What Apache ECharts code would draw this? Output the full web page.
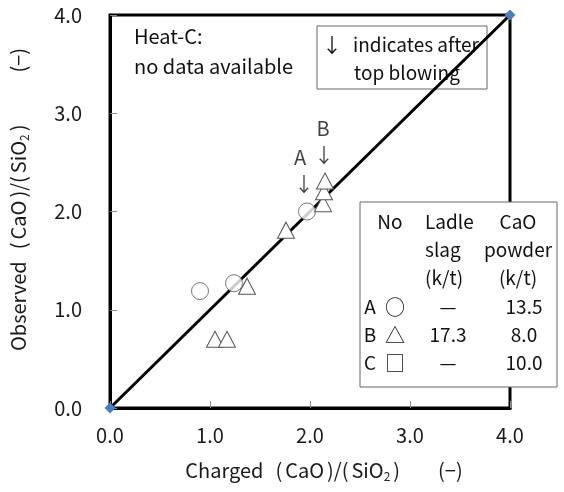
<!DOCTYPE html>
<html>
<head>
<meta charset="utf-8">
<script src="https://cdn.jsdelivr.net/npm/echarts@6/dist/echarts.min.js"></script>
<style>
  html, body { margin: 0; padding: 0; background: #fff; }
  #chart { width: 564px; height: 492px; }
</style>
</head>
<body>
<div id="chart"></div>
<script>
// Basicity: charged vs observed (CaO)/(SiO2)
const tickValues = [0, 1, 2, 3, 4];

// Heat A (circles)
const heatA = [[0.90, 1.19], [1.24, 1.27], [1.97, 2.00]];
// Heat B (triangles)
const heatB = [[1.05, 0.70], [1.17, 0.70], [1.37, 1.24], [1.76, 1.81],
               [2.13, 2.08], [2.14, 2.20], [2.15, 2.31]];
// 1:1 reference line
const parity = [[0, 0], [4, 4]];
// "after top blowing" markers
const arrowMarks = [[1.94, 2.28], [2.14, 2.575]];
const heatLabels = [{ name: 'A', value: [1.90, 2.555] }, { name: 'B', value: [2.13, 2.85] }];

// Table of additions
const tableHeader = [['No', 'Ladle', 'CaO'], ['', 'slag', 'powder'], ['', '(k/t)', '(k/t)']];
const tableRows = [['A', '○', '—', '13.5'], ['B', '△', '17.3', '8.0'], ['C', '□', '—', '10.0']];

const FONT = '"Noto Sans CJK JP", "Noto Sans", sans-serif';
const chart = echarts.init(document.getElementById('chart'));

function txt(x, y, s, size, align) {
  return { type: 'text', x: x, y: y,
    style: { text: s, font: size + 'px ' + FONT, fill: '#111', align: align || 'center', verticalAlign: 'middle' } };
}

// table: box + header + rows (positions relative to the box)
const rowY = [20, 48, 76, 105, 133, 161];
const tableChildren = [{
  type: 'rect', shape: { x: 0, y: 0, width: 197, height: 185 },
  style: { fill: '#fff', stroke: '#666', lineWidth: 1 }
}];
tableHeader.forEach((row, r) => {
  if (row[0]) tableChildren.push(txt(30, rowY[r], row[0], 19));
  if (row[1]) tableChildren.push(txt(65, rowY[r], row[1], 19, 'left'));
  if (row[2]) tableChildren.push(txt(158, rowY[r], row[2], 19));
});
tableRows.forEach((row, r) => {
  const y = rowY[3 + r];
  tableChildren.push(txt(10, y, row[0], 19));
  tableChildren.push(txt(35, y, row[1], 20));
  tableChildren.push(txt(88, y, row[2], 19));
  tableChildren.push(txt(164, y, row[3], 19));
});

const nameRich = {
  sub: { fontSize: 12, fontFamily: FONT, color: '#222', padding: [12, 0, 0, 0] },
  g: { width: 12 },
  p: { width: 3 },
  w: { width: 38 },
  wy: { width: 52 }
};

chart.setOption({
  backgroundColor: '#fff',
  animation: false,
  grid: { left: 108, top: 15, width: 402, height: 393, show: true, borderColor: '#000', borderWidth: 3, backgroundColor: 'transparent' },
  xAxis: {
    type: 'value', min: 0, max: 4, interval: 1,
    axisLine: { show: true, lineStyle: { color: '#000', width: 3 } },
    axisTick: { show: true, inside: true, length: 7, lineStyle: { color: '#888', width: 1 } },
    axisLabel: { margin: 17, fontSize: 20, fontFamily: FONT, color: '#1a1a1a', formatter: v => v.toFixed(1) },
    splitLine: { show: false },
    name: 'Charged{g| }({p| }CaO{p| })/({p| }SiO{sub|2}{p| }){w| }(−)',
    nameLocation: 'middle', nameGap: 50,
    nameTextStyle: { fontSize: 20, fontFamily: FONT, color: '#1a1a1a', rich: nameRich, padding: [0, 0, 0, 28] }
  },
  yAxis: {
    type: 'value', min: 0, max: 4, interval: 1,
    axisLine: { show: true, lineStyle: { color: '#000', width: 3 } },
    axisTick: { show: true, inside: true, length: 7, lineStyle: { color: '#888', width: 1 } },
    axisLabel: { margin: 28, fontSize: 20, fontFamily: FONT, color: '#1a1a1a', formatter: v => v.toFixed(1) },
    splitLine: { show: false },
    name: 'Observed{g| }({p| }CaO{p| })/({p| }SiO{sub|2}{p| }){wy| }(−)',
    nameLocation: 'middle', nameGap: 80, nameRotate: 90,
    nameTextStyle: { fontSize: 20, fontFamily: FONT, color: '#1a1a1a', rich: nameRich, padding: [0, 0, 0, 24] }
  },
  series: [
    {
      type: 'line', data: parity, symbol: 'diamond', symbolSize: 11,
      itemStyle: { color: '#4a7ebb' }, lineStyle: { color: '#000', width: 3 }, z: 2
    },
    {
      type: 'scatter', data: heatA, symbol: 'circle', symbolSize: 17,
      itemStyle: { color: '#fff', borderColor: '#555', borderWidth: 1 }, z: 3
    },
    {
      type: 'scatter', data: heatB, symbol: 'triangle', symbolSize: [17, 16],
      itemStyle: { color: '#fff', borderColor: '#555', borderWidth: 1, opacity: 1 }, z: 3
    },
    {
      type: 'scatter', data: arrowMarks, symbol: 'circle', symbolSize: 1,
      itemStyle: { color: 'transparent' },
      label: { show: true, position: 'inside', formatter: '↓', fontSize: 20, fontFamily: FONT, color: '#111' }, z: 4
    },
    {
      type: 'scatter', data: heatLabels, symbol: 'circle', symbolSize: 1,
      itemStyle: { color: 'transparent' },
      label: { show: true, position: 'inside', formatter: p => p.name, fontSize: 20, fontFamily: FONT, color: '#111' }, z: 4
    }
  ],
  graphic: [
    { type: 'text', x: 134, y: 36, style: { text: 'Heat-C:', font: '20px ' + FONT, fill: '#111', verticalAlign: 'middle' } },
    { type: 'text', x: 134, y: 66, style: { text: 'no data available', font: '20px ' + FONT, fill: '#111', verticalAlign: 'middle' } },
    {
      type: 'group', x: 317, y: 26,
      children: [
        { type: 'rect', shape: { x: 0, y: 0, width: 170, height: 63 }, style: { fill: '#fff', stroke: '#666', lineWidth: 1 } },
        txt(15, 19, '↓', 20),
        txt(99, 19, 'indicates after', 19),
        txt(90, 47, 'top blowing', 19)
      ]
    },
    { type: 'group', x: 360, y: 202, children: tableChildren }
  ]
});
</script>
</body>
</html>
